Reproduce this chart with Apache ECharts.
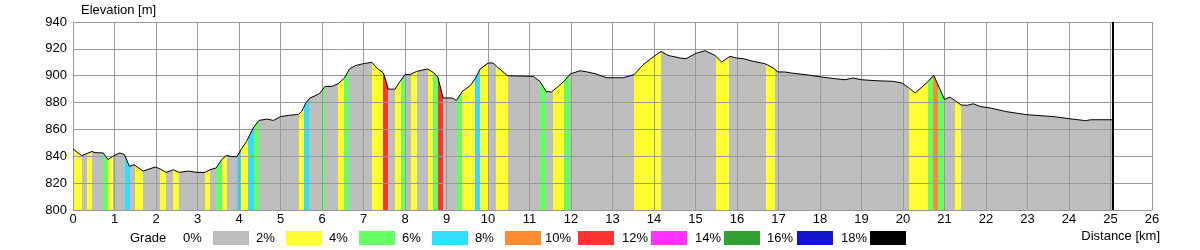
<!DOCTYPE html>
<html>
<head>
<meta charset="utf-8">
<script src="https://cdn.jsdelivr.net/npm/echarts@6/dist/echarts.min.js"></script>
<style>html,body{margin:0;padding:0;background:#fff}#c{width:1200px;height:250px}</style>
</head>
<body>
<div id="c"></div>
<script>
// Profile: distance [km] and elevation [m]
const distances = [0,0.1,0.21,0.33,0.46,0.53,0.73,0.84,0.96,1.13,1.24,1.36,1.47,1.69,1.98,2.09,2.24,2.42,2.56,2.78,2.99,3.18,3.3,3.45,3.58,3.7,3.82,3.95,4.05,4.18,4.34,4.48,4.67,4.83,5.0,5.2,5.43,5.51,5.61,5.71,5.83,5.95,6.07,6.23,6.39,6.54,6.66,6.8,7.0,7.2,7.32,7.48,7.6,7.76,7.88,8.0,8.12,8.28,8.32,8.54,8.68,8.79,8.92,9.14,9.24,9.38,9.57,9.69,9.81,10.01,10.12,10.25,10.47,11.09,11.25,11.4,11.53,11.69,11.83,11.98,12.22,12.39,12.58,12.86,13.26,13.52,13.74,13.98,14.17,14.34,14.63,14.77,15.03,15.23,15.47,15.63,15.83,15.99,16.15,16.39,16.67,16.87,16.99,17.15,17.31,17.72,18.04,18.36,18.6,18.8,19.0,19.33,19.77,19.97,20.13,20.29,20.6,20.74,21.0,21.13,21.25,21.4,21.55,21.69,21.87,22.1,22.5,22.98,23.64,24.0,24.4,24.52,25.06];
const elevations = [845.5,843,840.5,842,843.6,842.7,842.5,837.5,840,842.5,841.2,832.5,833.7,829,832,830.8,828,830,828,829,828,828,830,831.3,837.5,840.7,839.8,839.8,845,851,861,866.7,867.7,866.7,869.5,870.5,871.2,873.4,879.7,883.4,885,887,892,892,894,898.3,905,907.5,909,910,905.8,902,890,890,895.8,900.8,900.8,903.2,904,905,902.5,899,883.4,883.4,881.6,888.3,892.6,897.6,905,909.5,909.5,905.8,900,899.5,895.8,888.3,887.9,892,895.8,901.3,903.7,902.8,901.5,898.5,898.5,900.8,908.2,914,918.1,915.1,913.2,912.7,916.9,918.6,915.1,910.2,914.4,913.2,912.7,910.7,909,905.8,902.8,902.8,902,900.5,899,897.8,897,898.3,897,896.3,895.8,894.6,891.3,887.1,895.5,900.3,882.3,884.1,881.6,878.2,878,879.1,877,876,873.2,871,869.5,868,866.5,867.2,867.2];

// Grade bands: start/end distance [km] and grade class (index into gradeColors)
const bandStart = [0,0.33,0.73,0.84,1.25,1.49,2.1,2.4,3.18,3.45,3.58,3.96,4.05,4.22,4.35,5.45,5.57,5.99,6.38,6.53,7.2,7.48,7.76,7.9,8.14,8.56,8.68,8.79,9.26,9.37,9.69,9.81,10.19,11.25,11.56,11.83,13.52,15.49,16.69,20.14,20.61,20.73,20.84,21.25];
const bandEnd   = [0.22,0.46,0.84,0.97,1.37,1.69,2.24,2.56,3.3,3.58,3.7,4.05,4.22,4.35,4.48,5.57,5.69,6.08,6.53,6.66,7.48,7.59,7.9,7.99,8.29,8.68,8.79,8.91,9.37,9.69,9.81,10.0,10.47,11.4,11.83,11.98,14.17,15.81,16.92,20.61,20.73,20.84,21.0,21.4];
const bandGrade = [1,1,2,1,3,1,1,1,1,2,1,3,1,3,2,1,3,2,1,2,1,5,1,2,1,1,2,5,2,1,3,1,1,2,1,2,1,1,1,1,2,4,2,1];

// Legend
const gradeLabels = ['0%','2%','4%','6%','8%','10%','12%','14%','16%','18%'];
const gradeColors = ['#bebebe','#ffff33','#66ff66','#33ddff','#ff8c33','#ff3333','#ff33ff','#33a033','#1414cc','#000000'];
const trackEnd = 25.06;

const FONT = "'Liberation Sans', Arial, sans-serif";
const profile = distances.map((d, i) => [d, elevations[i]]);

// build contiguous visual pieces (gaps -> 0-2% grey)
const pieces = [];
let cur = 0;
bandStart.forEach((s, i) => {
  if (s > cur) pieces.push({gte: cur, lt: s, color: gradeColors[0]});
  pieces.push({gte: s, lt: bandEnd[i], color: gradeColors[bandGrade[i]]});
  cur = bandEnd[i];
});
pieces.push({gte: cur, lte: 30, color: gradeColors[0]});

// legend graphics
const labelX = [183,256,329,402,475,545,622,695,767,841];
const graphics = [
  {type:'text', left:81, top:4, style:{text:'Elevation [m]', font:'13px ' + FONT, fill:'#000'}},
  {type:'text', x:1160, y:236, style:{text:'Distance [km]', font:'13px ' + FONT, fill:'#000', align:'right', verticalAlign:'middle'}},
  {type:'text', x:130, y:238, style:{text:'Grade', font:'13px ' + FONT, fill:'#000', verticalAlign:'middle'}}
];
gradeLabels.forEach((lab, i) => {
  graphics.push({type:'text', x:labelX[i], y:238, style:{text:lab, font:'13px ' + FONT, fill:'#000', verticalAlign:'middle'}});
  graphics.push({type:'rect', shape:{x:213 + 73*i, y:231, width:36, height:14}, style:{fill:gradeColors[i]}});
});

const chart = echarts.init(document.getElementById('c'), null, {renderer:'canvas'});
chart.setOption({
  animation: false,
  backgroundColor: '#fff',
  grid: {left:73, right:48, top:22, bottom:40, containLabel:false},
  xAxis: {
    type:'value', min:0, max:26, interval:1, z:3,
    axisLine:{show:true, lineStyle:{color:'#999', width:1}},
    axisTick:{show:false},
    axisLabel:{margin:3, color:'#000', fontSize:13, fontFamily:FONT},
    splitLine:{show:true, lineStyle:{color:'#999', width:1}}
  },
  yAxis: {
    type:'value', min:800, max:940, interval:20, z:3,
    axisLine:{show:true, lineStyle:{color:'#999', width:1}},
    axisTick:{show:false},
    axisLabel:{margin:6, color:'#000', fontSize:13, fontFamily:FONT},
    splitLine:{show:true, lineStyle:{color:'#999', width:1}}
  },
  visualMap: {type:'piecewise', show:false, dimension:0, seriesIndex:0, pieces: pieces},
  series: [
    {type:'line', data:profile, showSymbol:false, z:1, lineStyle:{width:0}, areaStyle:{opacity:1}, silent:true},
    {type:'line', data:profile, showSymbol:false, z:5, lineStyle:{color:'#000', width:1}, silent:true,
     markLine:{silent:true, symbol:['none','none'], label:{show:false}, lineStyle:{color:'#000', width:2, type:'solid'},
       data:[{xAxis:trackEnd}]}}
  ],
  graphic: graphics
});
</script>
</body>
</html>
